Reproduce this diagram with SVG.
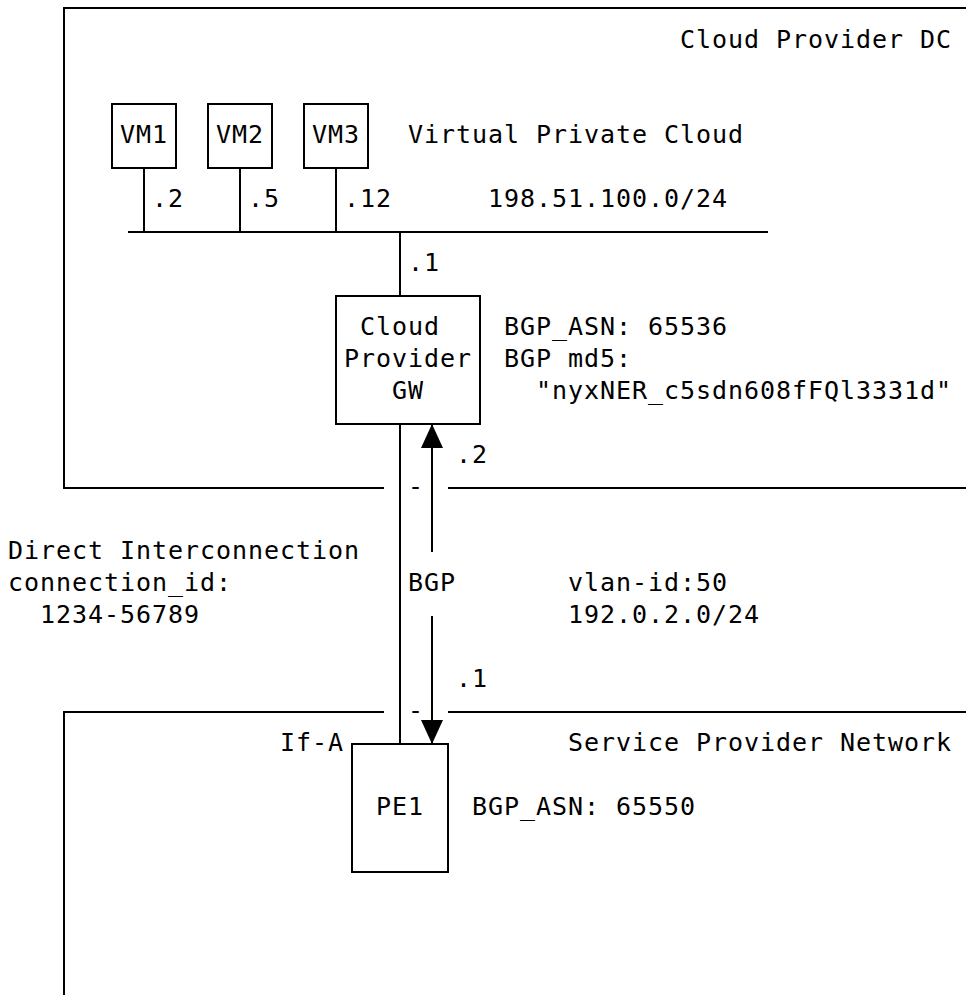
<svg xmlns="http://www.w3.org/2000/svg" width="966" height="995" viewBox="0 0 966 995">
<style>
text{font-family:"DejaVu Sans Mono","Liberation Mono",monospace;font-size:25px;letter-spacing:0.95px;fill:#000}
.ln{stroke:#000;stroke-width:2;fill:none}
.box{stroke:#000;stroke-width:2;fill:#fff}
</style>
<defs>
<marker id="ah" markerUnits="userSpaceOnUse" markerWidth="24" markerHeight="22" refX="24" refY="11" orient="auto" viewBox="0 0 24 22">
<path d="M0,0 L24,11 L0,22 Z" fill="#000"/>
</marker>
</defs>
<rect width="966" height="995" fill="#fff"/>
<g id="dc">
<path class="ln" d="M384,488 H64 V8 H966 M448,488 H966"/>
<text x="680" y="48">Cloud Provider DC</text>
<text x="408" y="143">Virtual Private Cloud</text>
<text x="488" y="207">198.51.100.0/24</text>
</g>
<g id="sp">
<path class="ln" d="M64,995 V712 H384 M448,712 H966"/>
<text x="568" y="751">Service Provider Network</text>
</g>
<g id="connectors">
<path class="ln" d="M128,232 H768"/>
<path class="ln" d="M144,168 V232 M240,168 V232 M336,168 V232"/>
<path class="ln" d="M400,232 V296"/>
<path class="ln" d="M400,424 V744"/>
<line class="ln" x1="432" y1="552" x2="432" y2="424" marker-end="url(#ah)"/>
<line class="ln" x1="432" y1="616" x2="432" y2="744" marker-end="url(#ah)"/>
<text x="152" y="207">.2</text>
<text x="248" y="207">.5</text>
<text x="344" y="207">.12</text>
<text x="408" y="271">.1</text>
<text x="456" y="463">.2</text>
<text x="408" y="495">-</text>
<text x="408" y="591">BGP</text>
<text x="456" y="687">.1</text>
<text x="408" y="719">-</text>
<text x="8" y="559">Direct Interconnection</text>
<text x="8" y="591">connection_id:</text>
<text x="40" y="623">1234-56789</text>
<text x="568" y="591">vlan-id:50</text>
<text x="568" y="623">192.0.2.0/24</text>
<text x="280" y="751">If-A</text>
</g>
<g id="vm1">
<rect class="box" x="112" y="104" width="64" height="64"/>
<text x="120" y="143">VM1</text>
</g>
<g id="vm2">
<rect class="box" x="208" y="104" width="64" height="64"/>
<text x="216" y="143">VM2</text>
</g>
<g id="vm3">
<rect class="box" x="304" y="104" width="64" height="64"/>
<text x="312" y="143">VM3</text>
</g>
<g id="gw">
<rect class="box" x="336" y="296" width="144" height="128"/>
<text x="360" y="335">Cloud</text>
<text x="344" y="367">Provider</text>
<text x="392" y="399">GW</text>
<text x="504" y="335">BGP_ASN: 65536</text>
<text x="504" y="367">BGP md5:</text>
<text x="536" y="399">"nyxNER_c5sdn608fFQl3331d"</text>
</g>
<g id="pe1">
<rect class="box" x="352" y="744" width="96" height="128"/>
<text x="376" y="815">PE1</text>
<text x="472" y="815">BGP_ASN: 65550</text>
</g>
</svg>
